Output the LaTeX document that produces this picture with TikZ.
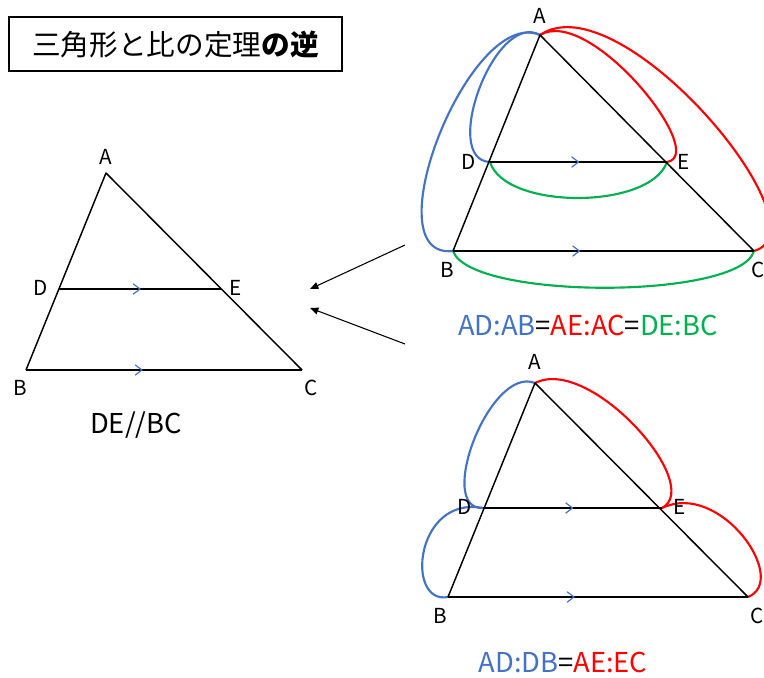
\documentclass[tikz,border=0pt]{standalone}
\usepackage{fontspec}
\setmainfont{Noto Sans CJK JP}
\usetikzlibrary{arrows.meta,positioning,calc,decorations.markings}
\definecolor{cBlue}{RGB}{68,114,196}
\definecolor{cRed}{RGB}{255,0,0}
\definecolor{cGreen}{RGB}{0,176,80}
\tikzset{
  tri/.style={draw=black, line width=1.1pt, line join=round},
  loopb/.style={draw=cBlue, line width=1.6pt},
  loopr/.style={draw=cRed, line width=1.6pt},
  loopg/.style={draw=cGreen, line width=1.6pt},
  vlbl/.style={font=\fontsize{15.5}{18}\selectfont, inner sep=0pt},
  eqn/.style={font=\fontsize{20.5}{24}\selectfont, inner sep=0pt},
  parmark/.style={postaction={decorate, decoration={markings,
      mark=at position #1 with {\draw[draw=cBlue, line width=0.9pt, line cap=round]
        (-5pt,3.8pt) -- (0pt,0pt) -- (-5pt,-3.8pt);}}}},
  ptr/.style={-{Triangle[length=2.2mm,width=1.8mm]}, draw=black, line width=0.8pt},
}

\begin{document}
\begin{tikzpicture}[x=0.75pt, y=-0.75pt]
\useasboundingbox (0,0) rectangle (764,678);

% title
\node[draw, line width=0.8pt, minimum width=249.75pt, minimum height=40.5pt,
      inner sep=0pt, font=\fontsize{21.5}{26}\selectfont] (title) at (175.5,44)
  {三角形と比の定理\textbf{の逆}};

% vertices: {index}{A}{B}{C}{D}{E}
\foreach \i/\ax/\ay/\bx/\by/\cx/\dx/\dy/\ex in {%
    0/106/173/26/370/302/59/289/221,
    1/540/35/453/251/754/490/162/667,
    2/535/383/448/597/748/483/508/662} {
  \coordinate (A\i) at (\ax,\ay);
  \coordinate (B\i) at (\bx,\by);
  \coordinate (C\i) at (\cx,\by);
  \coordinate (D\i) at (\dx,\dy);
  \coordinate (E\i) at (\ex,\dy);
}

% the ratio loops (drawn below the triangles)
\draw[loopb] (A1) .. controls (470,5) and (370,260) .. (B1);
\draw[loopb] (A1) .. controls (495,10) and (440,160) .. (D1);
\draw[loopr] (A1) .. controls (590,5) and (710,155) .. (E1);
\draw[loopr] (A1) .. controls (620,-20) and (830,230) .. (C1);
\draw[loopg] (D1) .. controls (505,210) and (650,210) .. (E1);
\draw[loopg] (B1) .. controls (470,300) and (740,300) .. (C1);

\draw[loopb] (A2) .. controls (490,365) and (435,510) .. (D2);
\draw[loopb] (D2) .. controls (415,495) and (405,605) .. (B2);
\draw[loopr] (A2) .. controls (590,355) and (705,485) .. (E2);
\draw[loopr] (E2) .. controls (720,480) and (790,580) .. (C2);

% triangles with DE // BC
\foreach \i in {0,1,2} {
  \draw[tri] (B\i) -- (A\i) -- (C\i);
  \draw[tri, parmark=0.5] (D\i) -- (E\i);
  \draw[tri, parmark=0.42] (B\i) -- (C\i);
}

% vertex labels
\foreach \i/\p/\x/\y in {0/A/106/157, 0/D/41/288, 0/E/236/288, 0/B/20/388, 0/C/311/388,
    1/A/540/16, 1/D/469/162, 1/E/684/162, 1/B/447/270, 1/C/758/270,
    2/A/535/362, 2/D/465/507, 2/E/680/507, 2/B/440/616, 2/C/757/616}
  \node[vlbl] (lab\p\i) at (\x,\y) {\p};

% statements
\node[eqn] (par) at (136,425) {DE//BC};
\node[eqn] (eqtop) at (588,325)
  {\textcolor{cBlue}{AD:AB}=\textcolor{cRed}{AE:AC}=\textcolor{cGreen}{DE:BC}};
\node[eqn] (eqbot) at (563,662)
  {\textcolor{cBlue}{AD:DB}=\textcolor{cRed}{AE:EC}};

% pointers
\coordinate (p1s) at (405,245);
\coordinate (p1e) at (310,289);
\coordinate (p2s) at (405,344);
\coordinate (p2e) at (310,308);
\draw[ptr] (p1s) -- (p1e);
\draw[ptr] (p2s) -- (p2e);
\end{tikzpicture}
\end{document}
